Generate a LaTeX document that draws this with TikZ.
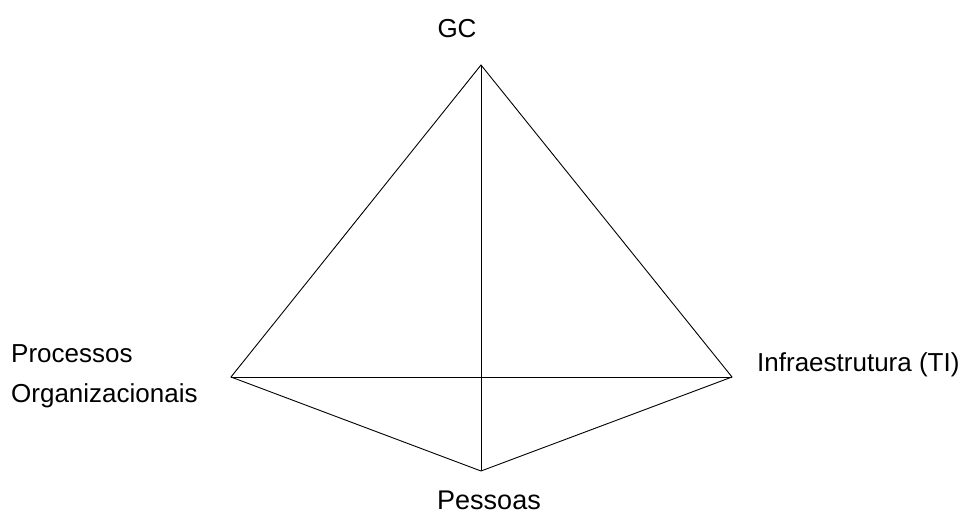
\documentclass[tikz,border=0pt]{standalone}
\usepackage{fontspec}
\setmainfont{Liberation Sans}
\begin{document}
\begin{tikzpicture}[x=1pt,y=-1pt,
  edge/.style={draw=black,line width=0.9pt},
  lbl/.style={font=\fontsize{26}{30}\selectfont,inner sep=0pt}]
\useasboundingbox (0,0) rectangle (967,515);
\coordinate (top) at (481,65);
\coordinate (left) at (231,377);
\coordinate (right) at (732,377);
\coordinate (bot) at (481,471);
\draw[edge] (top) -- (left) -- (bot) -- (right) -- cycle;
\draw[edge] (top) -- (bot);
\draw[edge] (left) -- (right);
\node[lbl] (gc) at (457,29) {GC};
\node[lbl,anchor=west] (proc) at (11,354) {Processos};
\node[lbl,anchor=west] (org) at (11,396) {Organizacionais};
\node[lbl,anchor=west] (infra) at (757,365) {Infraestrutura (TI)};
\node[lbl,font=\fontsize{27}{30}\selectfont] (pess) at (489,500) {Pessoas};
\end{tikzpicture}
\end{document}
